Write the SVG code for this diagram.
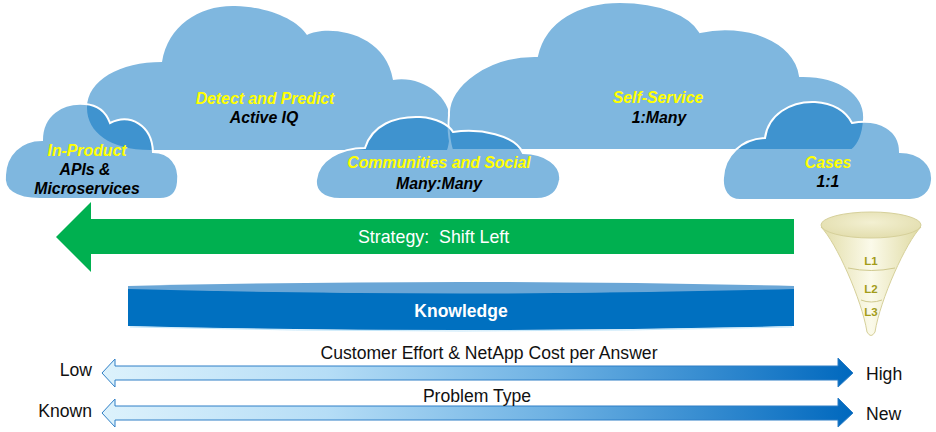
<svg xmlns="http://www.w3.org/2000/svg" width="936" height="432" viewBox="0 0 936 432">
<style>
.cloud{fill:#0070C0;fill-opacity:0.5;stroke:none}
.cloud.front{stroke:#FFFFFF;stroke-width:2}
.t{font-family:"Liberation Sans",Arial,sans-serif}
.ct{font-weight:bold;font-style:italic;font-size:15.8px;text-anchor:middle}
.y{fill:#FFFF00}
.k{fill:#000000}
.lbl{font-size:17.6px;fill:#111111}
.fl{font-weight:bold;font-size:11.5px;fill:#A39C1A;text-anchor:middle}
.dbl{stroke:#2F7FC6;stroke-width:1;fill:url(#blueGrad)}
</style>
<defs>
<linearGradient id="blueGrad" x1="102" y1="0" x2="853" y2="0" gradientUnits="userSpaceOnUse">
<stop offset="0" stop-color="#DDF2FC"/>
<stop offset="0.3" stop-color="#B5DDF6"/>
<stop offset="0.6" stop-color="#6DB1E3"/>
<stop offset="1" stop-color="#0068BE"/>
</linearGradient>
<linearGradient id="funnelGrad" x1="0" y1="0" x2="1" y2="0">
<stop offset="0" stop-color="#E2DDA8"/>
<stop offset="0.5" stop-color="#FBFAEA"/>
<stop offset="1" stop-color="#DFDAA2"/>
</linearGradient>
<radialGradient id="funnelTop" cx="0.5" cy="0.4" r="0.6">
<stop offset="0" stop-color="#F3F0D2"/>
<stop offset="1" stop-color="#E3DEAE"/>
</radialGradient>
</defs>

<g id="cloud-detect">
<path class="cloud" d="M 447 150 L 150 150 C 110 150 87 132 87 108 C 87 80 120 62 162 62 C 168 25 200 5 235 6 C 270 7 297 20 307 35 C 325 25 385 30 393 80 C 420 75 450 95 450 120 C 450 135 449 145 447 150 Z"/>
<text class="t ct y" x="265" y="104">Detect and Predict</text>
<text class="t ct k" x="264" y="123">Active IQ</text>
</g>

<g id="cloud-selfservice">
<path class="cloud front" d="M 452 150 C 449 140 448 128 449 115 C 447 85 490 55 537 56 C 545 20 580 2 620 2 C 660 2 690 15 700 32 C 745 22 795 40 800 76 C 840 75 866 95 864 120 C 863 135 858 145 852 150 Z"/>
<text class="t ct y" x="658" y="103">Self-Service</text>
<text class="t ct k" x="659" y="123">1:Many</text>
</g>

<g id="cloud-inproduct">
<path class="cloud front" d="M 40 199 C 15 199 3 190 5 175 C 6 155 20 140 42 140 C 42 115 62 102 85 104 C 98 105 106 112 110 123 C 130 113 152 125 153 152 C 170 152 180 165 178 182 C 177 194 170 199 160 199 Z"/>
<text class="t ct y" x="87" y="156">In-Product</text>
<text class="t ct k" x="85" y="175">APIs &amp;</text>
<text class="t ct k" x="87" y="194">Microservices</text>
</g>

<g id="cloud-communities">
<path class="cloud front" d="M 340 199 C 322 199 315 190 316 180 C 318 160 340 148 365 148 C 372 125 395 116 420 117 C 437 118 449 125 453 132 C 480 128 515 135 523 153 C 545 153 562 165 560 180 C 558 192 550 199 537 199 Z"/>
<text class="t ct y" x="439" y="168">Communities and Social</text>
<text class="t ct k" x="439" y="189">Many:Many</text>
</g>

<g id="cloud-cases">
<path class="cloud front" d="M 740 200 C 728 200 722 190 723 178 C 724 155 742 139 765 138 C 768 115 790 101 815 102 C 833 103 846 111 852 123 C 880 118 900 130 900 152 C 920 152 933 165 932 180 C 931 193 922 200 910 200 Z"/>
<text class="t ct y" x="828" y="168">Cases</text>
<text class="t ct k" x="828" y="187">1:1</text>
</g>

<g id="strategy-arrow">
<polygon points="56,237 91,202 91,219 794,219 794,254 91,254 91,272" fill="#00B050"/>
<text class="t" x="358" y="243" font-size="17.8" fill="#FFFFFF" xml:space="preserve">Strategy:  Shift Left</text>
</g>

<g id="knowledge">
<path d="M 128 288 Q 461 298 794 288 L 794 326 Q 461 334 128 326 Z" fill="#0070C0"/>
<path d="M 130 327 Q 461 335 792 327" fill="none" stroke="#A9DBF7" stroke-width="1" opacity="0.7"/>
<path d="M 128 286 Q 461 278 794 286 L 794 289 Q 461 298 128 289 Z" fill="#6AA6D6"/>
<text class="t" x="461" y="317" font-size="17.5" font-weight="bold" fill="#FFFFFF" text-anchor="middle">Knowledge</text>
</g>

<g id="funnel">
<path d="M 821 227 C 836 242 862 300 867 332 Q 871 339 875 332 C 880 300 906 242 921 227 Z" fill="url(#funnelGrad)" stroke="#D6D09A" stroke-width="1"/>
<ellipse cx="871" cy="225" rx="50" ry="13" fill="url(#funnelTop)" stroke="#D6D09A" stroke-width="1"/>
<path d="M 848 268 Q 871 273 895 268" fill="none" stroke="#CFC98E" stroke-width="1"/>
<path d="M 861 300 Q 871 304 882 300" fill="none" stroke="#CFC98E" stroke-width="1"/>
<text class="t fl" x="871" y="265">L1</text>
<text class="t fl" x="871" y="293">L2</text>
<text class="t fl" x="871" y="316">L3</text>
</g>

<g id="connectors">
<path class="dbl" d="M 102 373 L 115 359 L 115 366 L 838 366 L 838 358 L 853 373 L 838 387 L 838 380 L 115 380 L 115 387 Z"/>
<path class="dbl" d="M 102 413 L 115 399 L 115 406 L 838 406 L 838 398 L 853 413 L 838 427 L 838 420 L 115 420 L 115 427 Z"/>
</g>

<g id="scale-labels">
<text class="t lbl" x="489" y="359" text-anchor="middle">Customer Effort &amp; NetApp Cost per Answer</text>
<text class="t lbl" x="477" y="402" text-anchor="middle">Problem Type</text>
<text class="t lbl" x="92" y="376" text-anchor="end">Low</text>
<text class="t lbl" x="92" y="417" text-anchor="end">Known</text>
<text class="t lbl" x="866" y="380">High</text>
<text class="t lbl" x="866" y="420">New</text>
</g>
</svg>
